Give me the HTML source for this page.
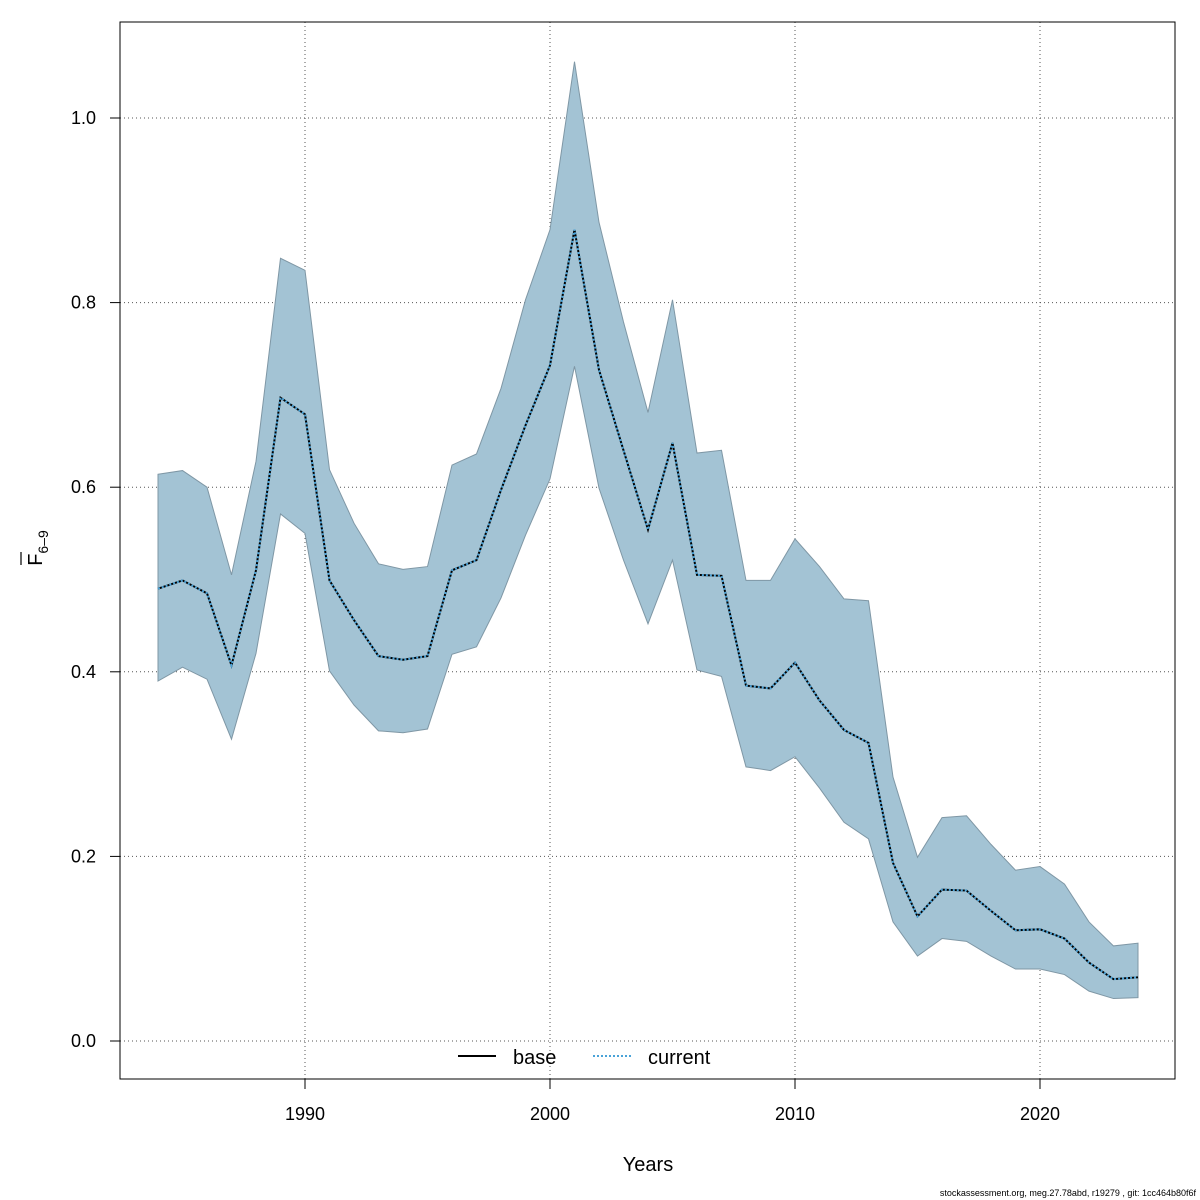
<!DOCTYPE html>
<html><head><meta charset="utf-8"><style>
body{margin:0;background:#fff;}
svg{display:block;font-family:"Liberation Sans",sans-serif;}
</style></head><body>
<svg id="chart" width="1200" height="1200" viewBox="0 0 1200 1200" xmlns="http://www.w3.org/2000/svg">
<rect width="1200" height="1200" fill="#fff"/>
<g id="grid"></g>
<g id="band"></g>
<g id="lines"></g>
<rect x="120" y="22" width="1055" height="1057" fill="none" stroke="#000" stroke-width="1"/>
<g id="axes"></g>
<text x="648" y="1171" font-size="20" text-anchor="middle">Years</text>
<g transform="translate(42,548) rotate(-90)">
<text x="0" y="0" font-size="20" text-anchor="middle">F<tspan font-size="14" dy="6">6–9</tspan></text>
<line x1="-17" y1="-21" x2="-4" y2="-21" stroke="#000" stroke-width="1.2"/>
</g>
<g>
<line x1="458" y1="1056" x2="496" y2="1056" stroke="#000" stroke-width="2"/>
<text x="513" y="1064" font-size="20">base</text>
<line x1="593" y1="1056" x2="631" y2="1056" stroke="#4aa3d8" stroke-width="2" stroke-dasharray="2,2"/>
<text x="648" y="1064" font-size="20">current</text>
</g>
<text x="1196" y="1196" font-size="9" text-anchor="end">stockassessment.org, meg.27.78abd, r19279 , git: 1cc464b80f6f</text>
</svg>
<script>
const years = [];
for (let y = 1984; y <= 2024; y++) years.push(y);
const fbar = [0.490,0.499,0.485,0.407,0.510,0.697,0.679,0.499,0.456,0.417,0.413,0.417,0.510,0.521,0.597,0.667,0.732,0.879,0.727,0.640,0.554,0.648,0.505,0.504,0.385,0.382,0.410,0.369,0.337,0.323,0.193,0.135,0.164,0.163,0.141,0.120,0.121,0.111,0.085,0.067,0.069];
const upper = [0.614,0.618,0.600,0.505,0.628,0.848,0.835,0.619,0.561,0.517,0.511,0.514,0.624,0.636,0.707,0.803,0.879,1.061,0.887,0.779,0.681,0.803,0.637,0.640,0.499,0.499,0.544,0.514,0.479,0.477,0.286,0.199,0.242,0.244,0.213,0.185,0.189,0.170,0.129,0.103,0.106];
const lower = [0.390,0.405,0.392,0.327,0.420,0.571,0.550,0.401,0.364,0.336,0.334,0.338,0.419,0.427,0.480,0.548,0.609,0.731,0.599,0.521,0.452,0.521,0.402,0.395,0.297,0.293,0.308,0.274,0.237,0.219,0.129,0.092,0.111,0.108,0.092,0.078,0.078,0.072,0.054,0.046,0.047];
const xTicks = [1990,2000,2010,2020];
const yTicks = [0.0,0.2,0.4,0.6,0.8,1.0];
const yTickLabels = ["0.0","0.2","0.4","0.6","0.8","1.0"];

const X = yr => 305 + (yr - 1990) * 24.5;
const Y = v => 1041 - v * 923;
const NS = "http://www.w3.org/2000/svg";
function mk(tag, attrs, parent){const e=document.createElementNS(NS,tag);for(const k in attrs)e.setAttribute(k,attrs[k]);parent.appendChild(e);return e;}
const grid=document.getElementById('grid'), band=document.getElementById('band'), lines=document.getElementById('lines'), axes=document.getElementById('axes');

xTicks.forEach(t=>{
  const l=mk('line',{x1:X(t),x2:X(t),y1:22,y2:1079,stroke:'#555','stroke-width':1,'stroke-dasharray':'1,3'},grid);
  
  
  const tk=mk('line',{x1:X(t),x2:X(t),y1:1079,y2:1089,stroke:'#000'},axes);
  
  
  const tx=mk('text',{x:X(t),y:1120,'font-size':18,'text-anchor':'middle'},axes);
  tx.textContent=t;
  
  
});
yTicks.forEach((t,i)=>{
  const l=mk('line',{x1:120,x2:1175,y1:Y(t),y2:Y(t),stroke:'#555','stroke-width':1,'stroke-dasharray':'1,3'},grid);
  
  
  const tk=mk('line',{x1:110,x2:120,y1:Y(t),y2:Y(t),stroke:'#000'},axes);
  
  
  const tx=mk('text',{x:96,y:Y(t)+6,'font-size':18,'text-anchor':'end'},axes);
  tx.textContent=yTickLabels[i];
  
  
});

let pts=years.map((y,i)=>X(y)+','+Y(upper[i]));
for(let i=years.length-1;i>=0;i--) pts.push(X(years[i])+','+Y(lower[i]));
const poly=mk('polygon',{points:pts.join(' '),fill:'#a3c3d4',stroke:'#7f97a5','stroke-width':1},band);



const lp=years.map((y,i)=>X(y)+','+Y(fbar[i])).join(' ');
const base=mk('polyline',{points:lp,fill:'none',stroke:'#000','stroke-width':2},lines);


const cur=mk('polyline',{points:lp,fill:'none',stroke:'#4aa3d8','stroke-width':2,'stroke-dasharray':'2,2'},lines);


</script>
</body></html>
